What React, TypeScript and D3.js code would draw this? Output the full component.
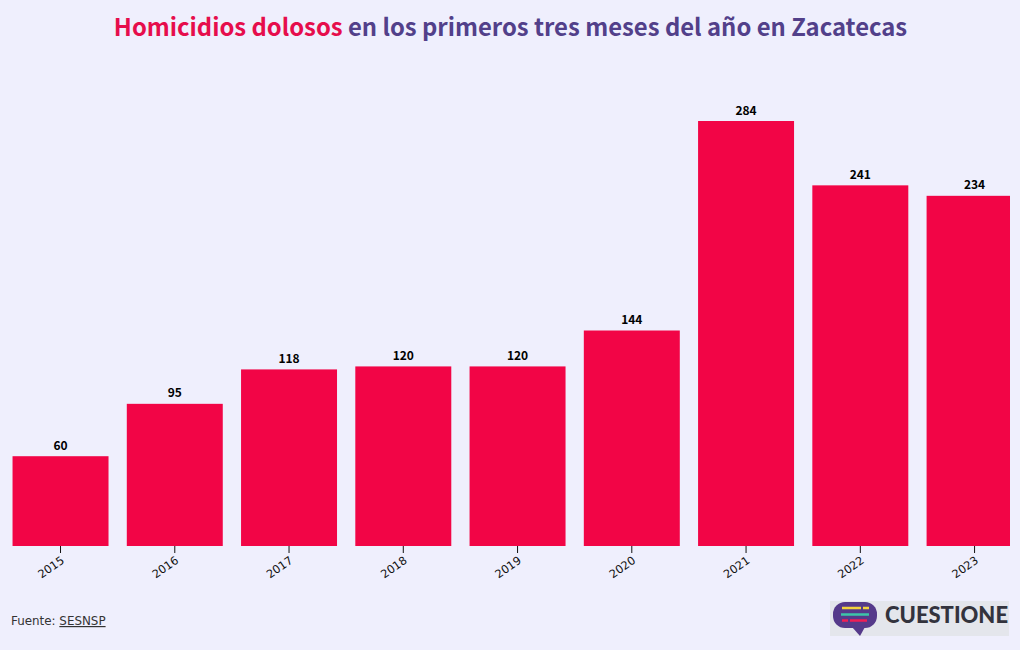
import React from "react";
import * as d3 from "d3";

const years = ["2015","2016","2017","2018","2019","2020","2021","2022","2023"];
const homicidios = [60,95,118,120,120,144,284,241,234];
const W = 1020, H = 650;
const FONT = "'Noto Sans CJK SC','Noto Sans',sans-serif";
const TICKFONT = "'DejaVu Sans',sans-serif";

export default function App() {
  const x = d3.scaleBand<string>().domain(years).range([3.4, 1031.7]).paddingInner(0.16).paddingOuter(0.08);
  const y = d3.scaleLinear().domain([0, 284]).range([546, 121]);
  return (
    <svg width={W} height={H} viewBox={`0 0 ${W} ${H}`} style={{position:"fixed",left:0,top:0,background:"#efeffd",display:"block"}} fontFamily={FONT}>
      <defs>
        <clipPath id="plot"><rect x={0} y={0} width={1010} height={H}/></clipPath>
      </defs>
      <text x={510.5} y={36} textAnchor="middle" fontSize={23.85} fontWeight={700} fill="#52408a">
        <tspan fill="#e60d4c">Homicidios dolosos</tspan> en los primeros tres meses del año en Zacatecas
      </text>
      <g clipPath="url(#plot)">
        {years.map((yr,i)=>(
          <rect key={yr} x={x(yr)} y={y(homicidios[i])} width={x.bandwidth()} height={546-y(homicidios[i])} fill="#f20546"/>
        ))}
      </g>
      {years.map((yr,i)=>{
        const cx = x(yr)!+x.bandwidth()/2;
        return (
          <g key={yr}>
            <text x={cx} y={y(homicidios[i])-6.5} textAnchor="middle" fontSize={12} fontWeight={700} fill="#000">{homicidios[i]}</text>
            <line x1={cx} x2={cx} y1={546} y2={553} stroke="#111" strokeWidth={1}/>
            <text transform={`translate(${cx-9},${568}) rotate(-35)`} textAnchor="middle" fontSize={11.3} fill="#111" dominantBaseline="middle" fontFamily={TICKFONT}>{yr}</text>
          </g>
        );
      })}
      <text x={11} y={625} fontSize={11.9} fill="#333" fontFamily={TICKFONT}>Fuente: <tspan textDecoration="underline">SESNSP</tspan></text>
      <g>
        <rect x={830} y={601} width={179} height={35} fill="#e4e6ec"/>
        <rect x={833} y={602} width={44} height={26} rx={12} fill="#553a8a"/>
        <path d="M852 627 L865 627 L860 636 Z" fill="#553a8a"/>
        <line x1={842} x2={869} y1={608} y2={608} stroke="#f4d33c" strokeWidth={2.5} strokeDasharray="19 2 6"/>
        <line x1={841} x2={869} y1={614.5} y2={614.5} stroke="#3cc6a8" strokeWidth={2.5}/>
        <line x1={842} x2={867} y1={620.5} y2={620.5} stroke="#ef1f55" strokeWidth={2.5} strokeDasharray="6 2 17"/>
        <text x={885} y={622.5} fontSize={22} fontWeight={900} fill="#33333d" fontFamily="'Lato',sans-serif" textLength={123} lengthAdjust="spacingAndGlyphs">CUESTIONE</text>
      </g>
    </svg>
  );
}
